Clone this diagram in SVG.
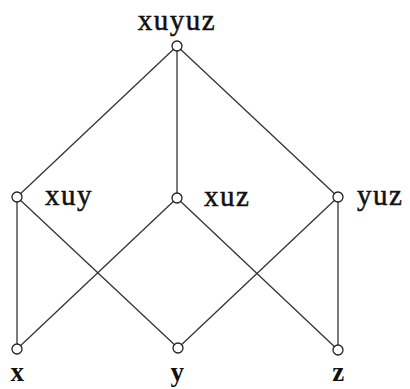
<svg xmlns="http://www.w3.org/2000/svg" width="410" height="389" viewBox="0 0 410 389">
<style>
.e{stroke:#333;stroke-width:1.3;fill:none}
.n{fill:#fff;stroke:#222;stroke-width:1.3}
.t{font-family:"Liberation Serif","Times New Roman",serif;font-size:29px;fill:#111;stroke:#111;stroke-width:0.5;letter-spacing:1.5px}
.b{font-weight:bold;font-size:27px;stroke-width:0}
</style>
<rect width="410" height="389" fill="#fff"/>
<g id="connectors">
<line class="e" x1="177" y1="46" x2="17" y2="197"/>
<line class="e" x1="177" y1="46" x2="177" y2="198"/>
<line class="e" x1="177" y1="46" x2="338" y2="197"/>
<line class="e" x1="17" y1="197" x2="17" y2="349"/>
<line class="e" x1="17" y1="197" x2="178" y2="348"/>
<line class="e" x1="177" y1="198" x2="17" y2="349"/>
<line class="e" x1="177" y1="198" x2="338" y2="350"/>
<line class="e" x1="338" y1="197" x2="178" y2="348"/>
<line class="e" x1="338" y1="197" x2="338" y2="350"/>
</g>
<g id="n-xuyuz"><circle class="n" cx="177" cy="46" r="5"/><text class="t" x="177" y="30" text-anchor="middle">xuyuz</text></g>
<g id="n-xuy"><circle class="n" cx="17" cy="197" r="5"/><text class="t" x="45" y="205">xuy</text></g>
<g id="n-xuz"><circle class="n" cx="177" cy="198" r="5"/><text class="t" x="204" y="206">xuz</text></g>
<g id="n-yuz"><circle class="n" cx="338" cy="197" r="5"/><text class="t" x="357" y="205">yuz</text></g>
<g id="n-x"><circle class="n" cx="17" cy="349" r="5"/><text class="t b" x="18" y="381" text-anchor="middle">x</text></g>
<g id="n-y"><circle class="n" cx="178" cy="348" r="5"/><text class="t b" x="178" y="381" text-anchor="middle">y</text></g>
<g id="n-z"><circle class="n" cx="338" cy="350" r="5"/><text class="t b" x="339" y="381" text-anchor="middle">z</text></g>
</svg>
